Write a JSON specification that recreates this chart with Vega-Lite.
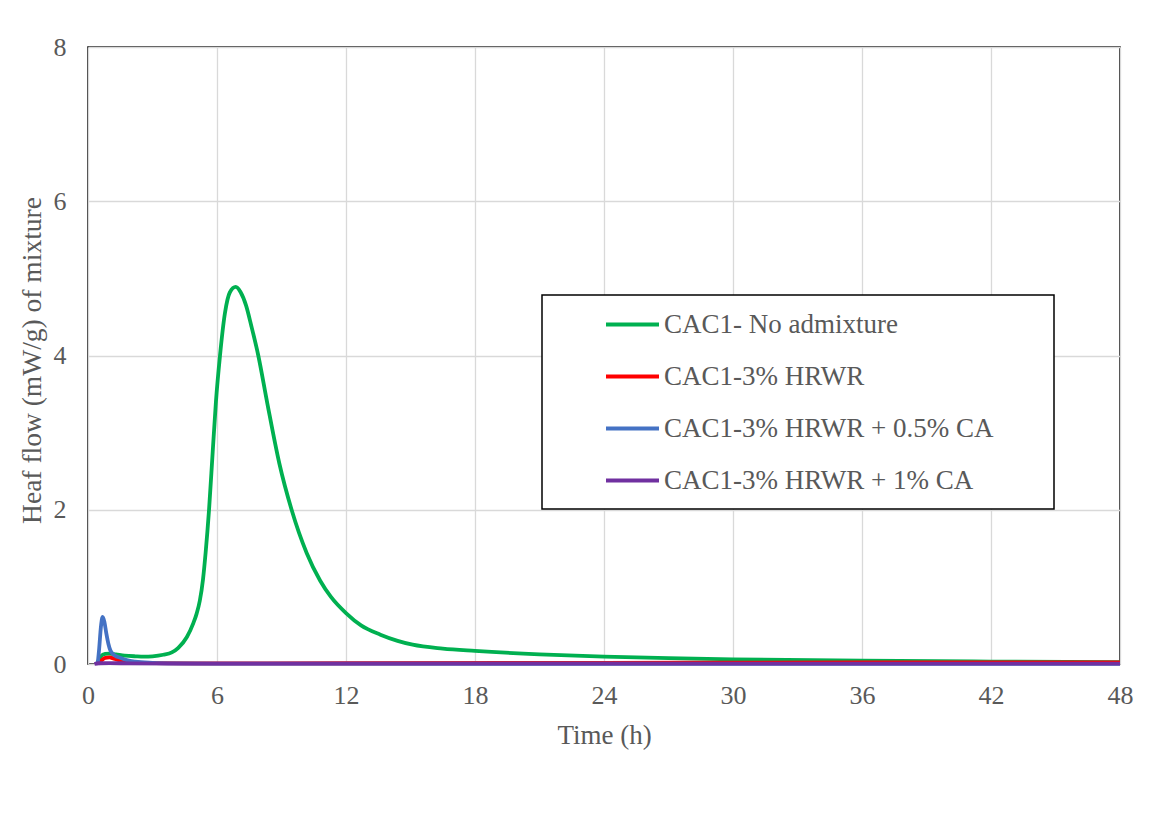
{
  "$schema": "https://vega.github.io/schema/vega-lite/v6.json",
  "autosize": {"type": "none"},
  "padding": {"left": 88, "top": 47, "right": 31, "bottom": 159},
  "width": 1032,
  "height": 617,
  "background": "white",
  "config": {
    "view": {"stroke": "black", "strokeWidth": 1.5},
    "font": "Liberation Serif",
    "axis": {
      "labelFont": "Liberation Serif",
      "titleFont": "Liberation Serif",
      "labelColor": "#595959",
      "titleColor": "#595959",
      "labelFontSize": 26,
      "titleFontSize": 27,
      "titleFontWeight": "normal",
      "gridColor": "#d9d9d9",
      "gridWidth": 1.3,
      "ticks": false,
      "domain": false,
      "labelFlush": false
    }
  },
  "datasets": {
    "curves": [
      {"t": 0.4, "q": 0.0, "s": "CAC1- No admixture"},
      {"t": 0.5, "q": 0.05, "s": "CAC1- No admixture"},
      {"t": 0.6, "q": 0.1, "s": "CAC1- No admixture"},
      {"t": 0.8, "q": 0.13, "s": "CAC1- No admixture"},
      {"t": 1.0, "q": 0.135, "s": "CAC1- No admixture"},
      {"t": 1.3, "q": 0.125, "s": "CAC1- No admixture"},
      {"t": 1.7, "q": 0.11, "s": "CAC1- No admixture"},
      {"t": 2.2, "q": 0.1, "s": "CAC1- No admixture"},
      {"t": 2.6, "q": 0.095, "s": "CAC1- No admixture"},
      {"t": 3.0, "q": 0.1, "s": "CAC1- No admixture"},
      {"t": 3.5, "q": 0.12, "s": "CAC1- No admixture"},
      {"t": 3.9, "q": 0.15, "s": "CAC1- No admixture"},
      {"t": 4.2, "q": 0.21, "s": "CAC1- No admixture"},
      {"t": 4.6, "q": 0.35, "s": "CAC1- No admixture"},
      {"t": 4.9, "q": 0.53, "s": "CAC1- No admixture"},
      {"t": 5.05, "q": 0.65, "s": "CAC1- No admixture"},
      {"t": 5.2, "q": 0.82, "s": "CAC1- No admixture"},
      {"t": 5.35, "q": 1.1, "s": "CAC1- No admixture"},
      {"t": 5.47, "q": 1.44, "s": "CAC1- No admixture"},
      {"t": 5.63, "q": 2.0, "s": "CAC1- No admixture"},
      {"t": 5.8, "q": 2.75, "s": "CAC1- No admixture"},
      {"t": 5.95, "q": 3.4, "s": "CAC1- No admixture"},
      {"t": 6.14, "q": 4.0, "s": "CAC1- No admixture"},
      {"t": 6.37, "q": 4.55, "s": "CAC1- No admixture"},
      {"t": 6.6, "q": 4.82, "s": "CAC1- No admixture"},
      {"t": 6.87, "q": 4.89, "s": "CAC1- No admixture"},
      {"t": 7.1, "q": 4.82, "s": "CAC1- No admixture"},
      {"t": 7.35, "q": 4.65, "s": "CAC1- No admixture"},
      {"t": 7.6, "q": 4.38, "s": "CAC1- No admixture"},
      {"t": 7.92, "q": 4.0, "s": "CAC1- No admixture"},
      {"t": 8.34, "q": 3.38, "s": "CAC1- No admixture"},
      {"t": 8.9, "q": 2.6, "s": "CAC1- No admixture"},
      {"t": 9.47, "q": 2.0, "s": "CAC1- No admixture"},
      {"t": 10.17, "q": 1.44, "s": "CAC1- No admixture"},
      {"t": 10.8, "q": 1.08, "s": "CAC1- No admixture"},
      {"t": 11.3, "q": 0.87, "s": "CAC1- No admixture"},
      {"t": 12.0, "q": 0.66, "s": "CAC1- No admixture"},
      {"t": 12.7, "q": 0.5, "s": "CAC1- No admixture"},
      {"t": 13.6, "q": 0.38, "s": "CAC1- No admixture"},
      {"t": 14.4, "q": 0.3, "s": "CAC1- No admixture"},
      {"t": 15.1, "q": 0.25, "s": "CAC1- No admixture"},
      {"t": 16.5, "q": 0.2, "s": "CAC1- No admixture"},
      {"t": 18.0, "q": 0.17, "s": "CAC1- No admixture"},
      {"t": 21.0, "q": 0.125, "s": "CAC1- No admixture"},
      {"t": 24.0, "q": 0.095, "s": "CAC1- No admixture"},
      {"t": 27.0, "q": 0.075, "s": "CAC1- No admixture"},
      {"t": 30.0, "q": 0.06, "s": "CAC1- No admixture"},
      {"t": 36.0, "q": 0.042, "s": "CAC1- No admixture"},
      {"t": 42.0, "q": 0.032, "s": "CAC1- No admixture"},
      {"t": 48.0, "q": 0.025, "s": "CAC1- No admixture"},

      {"t": 0.45, "q": 0.0, "s": "CAC1-3% HRWR"},
      {"t": 0.6, "q": 0.04, "s": "CAC1-3% HRWR"},
      {"t": 0.8, "q": 0.08, "s": "CAC1-3% HRWR"},
      {"t": 1.0, "q": 0.085, "s": "CAC1-3% HRWR"},
      {"t": 1.2, "q": 0.07, "s": "CAC1-3% HRWR"},
      {"t": 1.5, "q": 0.045, "s": "CAC1-3% HRWR"},
      {"t": 2.0, "q": 0.025, "s": "CAC1-3% HRWR"},
      {"t": 3.0, "q": 0.012, "s": "CAC1-3% HRWR"},
      {"t": 5.0, "q": 0.008, "s": "CAC1-3% HRWR"},
      {"t": 12.0, "q": 0.01, "s": "CAC1-3% HRWR"},
      {"t": 24.0, "q": 0.015, "s": "CAC1-3% HRWR"},
      {"t": 36.0, "q": 0.02, "s": "CAC1-3% HRWR"},
      {"t": 48.0, "q": 0.022, "s": "CAC1-3% HRWR"},

      {"t": 0.45, "q": 0.0, "s": "CAC1-3% HRWR + 0.5% CA"},
      {"t": 0.52, "q": 0.2, "s": "CAC1-3% HRWR + 0.5% CA"},
      {"t": 0.6, "q": 0.48, "s": "CAC1-3% HRWR + 0.5% CA"},
      {"t": 0.68, "q": 0.61, "s": "CAC1-3% HRWR + 0.5% CA"},
      {"t": 0.76, "q": 0.55, "s": "CAC1-3% HRWR + 0.5% CA"},
      {"t": 0.85, "q": 0.4, "s": "CAC1-3% HRWR + 0.5% CA"},
      {"t": 0.95, "q": 0.26, "s": "CAC1-3% HRWR + 0.5% CA"},
      {"t": 1.05, "q": 0.17, "s": "CAC1-3% HRWR + 0.5% CA"},
      {"t": 1.25, "q": 0.11, "s": "CAC1-3% HRWR + 0.5% CA"},
      {"t": 1.5, "q": 0.08, "s": "CAC1-3% HRWR + 0.5% CA"},
      {"t": 1.8, "q": 0.05, "s": "CAC1-3% HRWR + 0.5% CA"},
      {"t": 2.2, "q": 0.03, "s": "CAC1-3% HRWR + 0.5% CA"},
      {"t": 3.0, "q": 0.015, "s": "CAC1-3% HRWR + 0.5% CA"},
      {"t": 4.0, "q": 0.008, "s": "CAC1-3% HRWR + 0.5% CA"},
      {"t": 6.0, "q": 0.005, "s": "CAC1-3% HRWR + 0.5% CA"},
      {"t": 12.0, "q": 0.004, "s": "CAC1-3% HRWR + 0.5% CA"},
      {"t": 24.0, "q": 0.003, "s": "CAC1-3% HRWR + 0.5% CA"},
      {"t": 48.0, "q": 0.002, "s": "CAC1-3% HRWR + 0.5% CA"},

      {"t": 0.3, "q": 0.0, "s": "CAC1-3% HRWR + 1% CA"},
      {"t": 0.5, "q": 0.01, "s": "CAC1-3% HRWR + 1% CA"},
      {"t": 1.0, "q": 0.012, "s": "CAC1-3% HRWR + 1% CA"},
      {"t": 2.0, "q": 0.008, "s": "CAC1-3% HRWR + 1% CA"},
      {"t": 6.0, "q": 0.005, "s": "CAC1-3% HRWR + 1% CA"},
      {"t": 24.0, "q": 0.004, "s": "CAC1-3% HRWR + 1% CA"},
      {"t": 48.0, "q": 0.004, "s": "CAC1-3% HRWR + 1% CA"}
    ]
  },
  "data": {"name": "curves"},
  "mark": {"type": "line", "strokeWidth": 3.8, "interpolate": "monotone", "clip": false},
  "encoding": {
    "x": {
      "field": "t", "type": "quantitative",
      "scale": {"domain": [0, 48], "nice": false, "zero": false},
      "axis": {"values": [0, 6, 12, 18, 24, 30, 36, 42, 48], "title": "Time (h)", "labelPadding": 18, "titlePadding": 14, "grid": true}
    },
    "y": {
      "field": "q", "type": "quantitative",
      "scale": {"domain": [0, 8], "nice": false},
      "axis": {"values": [0, 2, 4, 6, 8], "title": "Heaf flow (mW/g) of mixture", "titleFontSize": 27.5, "titleY": 313, "labelPadding": 22, "titlePadding": 7, "grid": true}
    },
    "color": {
      "field": "s", "type": "nominal",
      "scale": {
        "domain": ["CAC1- No admixture", "CAC1-3% HRWR", "CAC1-3% HRWR + 0.5% CA", "CAC1-3% HRWR + 1% CA"],
        "range": ["#00b050", "#ff0000", "#4472c4", "#7030a0"]
      },
      "legend": {
        "title": "\u00a0",
        "titleOrient": "bottom",
        "titleFontSize": 2,
        "titlePadding": 12,
        "orient": "none",
        "legendX": 454,
        "legendY": 248,
        "direction": "vertical",
        "fillColor": "white",
        "strokeColor": "black",
        "padding": 1,
        "symbolOffset": 61,
        "symbolType": "stroke",
        "symbolSize": 2809,
        "symbolStrokeWidth": 4,
        "rowPadding": 10,
        "labelOffset": 3,
        "labelFont": "Liberation Serif",
        "labelFontSize": 27,
        "labelColor": "#595959",
        "labelLimit": 0,
        "labelExpr": "datum.label + '\u00a0\u00a0\u00a0\u00a0\u00a0\u00a0\u00a0\u00a0\u2009\u200b'",
        "encode": {"legend": {"update": {"strokeWidth": {"value": 1.5}}}}
      }
    },
    "order": {"field": "t", "type": "quantitative"}
  }
}
